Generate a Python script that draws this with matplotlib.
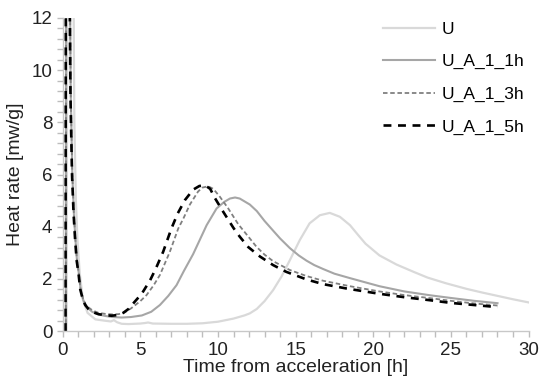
import matplotlib
matplotlib.use("Agg")
import matplotlib.pyplot as plt
from matplotlib.ticker import MultipleLocator

plt.rcParams['font.family'] = ['Liberation Sans', 'DejaVu Sans']

# data (time [h], heat rate [mW/g])
t_u = [0.25, 0.3, 0.68, 0.75, 0.85, 0.95, 1.1, 1.3, 1.6, 2.1, 2.7, 3.1, 3.3, 3.5, 3.8, 4.24,
       5.0, 5.3, 5.5, 5.8, 7.0, 8.0, 9.0, 10.0, 11.0, 11.7, 12.05, 12.5, 13.0, 13.55, 14.1,
       14.63, 15.27, 15.9, 16.56, 17.2, 17.85, 18.5, 19.0, 19.5, 20.4, 21.5, 22.6, 23.5,
       24.7, 26.0, 27.0, 28.0, 29.0, 30.0]
v_u = [0, 15, 15, 8, 5, 3.5, 2.2, 1.2, 0.7, 0.45, 0.4, 0.37, 0.42, 0.34, 0.28, 0.27,
       0.29, 0.31, 0.33, 0.29, 0.28, 0.28, 0.3, 0.36, 0.48, 0.6, 0.68, 0.85, 1.15, 1.57, 2.1,
       2.72, 3.49, 4.13, 4.44, 4.53, 4.38, 4.06, 3.7, 3.35, 2.9, 2.55, 2.27, 2.05,
       1.83, 1.62, 1.48, 1.35, 1.22, 1.1]

t_1h = [0.2, 0.22, 0.44, 0.52, 0.62, 0.72, 0.82, 0.92, 1.04, 1.15, 1.32, 1.47, 1.68, 1.9,
        2.3, 2.74, 3.2, 3.8, 4.4, 5.1, 5.7, 6.26, 6.8, 7.33, 7.8, 8.4, 9.27, 9.91, 10.4,
        10.77, 11.1, 11.4, 12.05, 12.5, 13.0, 13.55, 14.0, 14.63, 15.2, 15.7, 16.2, 16.77,
        17.5, 18.5, 20.4, 22.0, 23.7, 25.0, 26.5, 28.0]
v_1h = [0, 15, 15, 9, 6, 4.5, 3.5, 2.7, 2.2, 1.6, 1.2, 1.0, 0.85, 0.74,
        0.64, 0.58, 0.54, 0.52, 0.54, 0.6, 0.74, 1.0, 1.35, 1.76, 2.3, 2.95, 4.06, 4.7, 4.95,
        5.08, 5.12, 5.08, 4.85, 4.6, 4.22, 3.85, 3.55, 3.18, 2.9, 2.7, 2.53, 2.38,
        2.2, 2.03, 1.72, 1.52, 1.37, 1.27, 1.16, 1.07]

t_3h = [0.2, 0.22, 0.44, 0.52, 0.62, 0.72, 0.82, 0.92, 1.04, 1.15, 1.32, 1.47, 1.68, 1.9,
        2.3, 2.74, 3.2, 3.6, 4.0, 4.4, 5.0, 5.4, 5.85, 6.26, 6.9, 7.44, 7.76, 8.19, 8.72,
        9.0, 9.37, 9.7, 10.12, 10.66, 11.3, 12.05, 12.48, 13.0, 13.55, 14.63, 15.7, 16.77,
        18.5, 20.4, 22.0, 23.7, 25.0, 26.5, 28.0]
v_3h = [0, 15, 15, 9, 6, 4.5, 3.5, 2.7, 2.2, 1.6, 1.22, 1.03, 0.9, 0.8,
        0.7, 0.66, 0.64, 0.65, 0.72, 0.87, 1.15, 1.38, 1.75, 2.15, 3.04, 3.93, 4.3, 4.85, 5.35,
        5.5, 5.55, 5.45, 5.15, 4.7, 4.1, 3.55, 3.23, 2.93, 2.68, 2.34, 2.11, 1.93,
        1.72, 1.52, 1.38, 1.26, 1.16, 1.06, 0.98]

t_5h = [0.18, 0.2, 0.42, 0.5, 0.6, 0.7, 0.8, 0.9, 1.02, 1.13, 1.3, 1.45, 1.65, 1.88, 2.3,
        2.74, 3.15, 3.6, 3.9, 4.24, 4.6, 5.1, 5.63, 6.0, 6.47, 7.0, 7.4, 7.87, 8.4, 8.8,
        9.16, 9.5, 9.8, 10.34, 11.0, 11.4, 11.95, 12.7, 13.55, 14.4, 15.7, 16.77, 18.3,
        20.4, 22.0, 23.7, 25.0, 26.5, 28.0]
v_5h = [0, 15, 15, 9, 6, 4.5, 3.5, 2.7, 2.2, 1.6, 1.2, 1.0, 0.85, 0.74, 0.65,
        0.61, 0.59, 0.62, 0.7, 0.85, 1.1, 1.44, 1.95, 2.4, 3.04, 3.93, 4.5, 5.02, 5.42, 5.56,
        5.59, 5.45, 5.1, 4.57, 3.95, 3.62, 3.22, 2.86, 2.53, 2.27, 1.98, 1.8, 1.63,
        1.43, 1.3, 1.18, 1.08, 1.0, 0.92]

fig = plt.figure(figsize=(5.5, 3.9), dpi=100)
ax = fig.add_axes([0.114, 0.151, 0.847, 0.803])

ax.plot(t_u, v_u, color='#d9d9d9', lw=1.6, label='U')
ax.plot(t_1h, v_1h, color='#a6a6a6', lw=1.5, label='U_A_1_1h')
ax.plot(t_3h, v_3h, color='#808080', lw=1.3, ls=(0, (2.5, 1.5)), label='U_A_1_3h')
ax.plot(t_5h, v_5h, color='black', lw=1.9, ls=(0, (3, 2.5)), label='U_A_1_5h')

ax.set_xlim(0, 30)
ax.set_ylim(0, 12)
ax.xaxis.set_major_locator(MultipleLocator(5))
ax.xaxis.set_minor_locator(MultipleLocator(1))
ax.yaxis.set_major_locator(MultipleLocator(2))
ax.yaxis.set_minor_locator(MultipleLocator(0.4))

for s in ['top', 'right']:
    ax.spines[s].set_visible(False)
for s in ['left', 'bottom']:
    ax.spines[s].set_color('#c8c8c8')
    ax.spines[s].set_linewidth(1.0)

ax.tick_params(which='both', direction='out', color='#bdbdbd', length=4, width=1,
               labelsize=13.5, labelcolor='#222222')

ax.set_xlabel('Time from acceleration [h]', fontsize=14, color='#222222', labelpad=0)
ax.set_ylabel('Heat rate [mw/g]', fontsize=14, color='#222222', labelpad=5)

leg = ax.legend(loc='upper left', bbox_to_anchor=(0.668, 0.985), frameon=False, fontsize=12.5,
                handlelength=3.0, handletextpad=0.4, labelspacing=1.0,
                bbox_transform=fig.transFigure)

fig.savefig('out.png', dpi=100)
